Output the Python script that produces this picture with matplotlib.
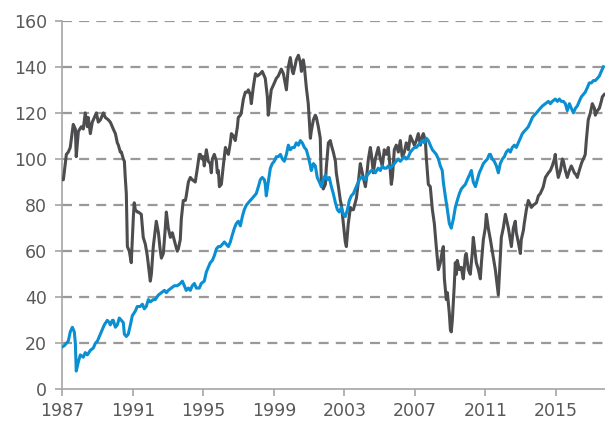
import matplotlib
matplotlib.use("Agg")
import matplotlib.pyplot as plt

# Dark grey series (decimal year, value)
grey_years = [1987.00,1987.06,1987.23,1987.34,1987.45,1987.62,1987.74,1987.79,1987.91,1988.08,1988.19,1988.30,1988.42,1988.47,1988.59,1988.70,1988.76,1988.93,1989.04,1989.16,1989.33,1989.44,1989.61,1989.72,1989.78,1989.89,1990.01,1990.12,1990.18,1990.29,1990.35,1990.46,1990.52,1990.57,1990.63,1990.69,1990.80,1990.91,1991.03,1991.08,1991.14,1991.25,1991.31,1991.48,1991.59,1991.71,1991.82,1991.88,1991.99,1992.05,1992.16,1992.22,1992.33,1992.45,1992.56,1992.62,1992.73,1992.84,1992.90,1993.01,1993.13,1993.24,1993.41,1993.52,1993.58,1993.69,1993.75,1993.86,1993.98,1994.03,1994.15,1994.26,1994.37,1994.54,1994.66,1994.77,1994.83,1994.94,1995.00,1995.05,1995.17,1995.28,1995.39,1995.45,1995.51,1995.62,1995.74,1995.79,1995.85,1995.91,1996.02,1996.13,1996.25,1996.30,1996.42,1996.53,1996.59,1996.70,1996.81,1996.93,1996.98,1997.10,1997.15,1997.27,1997.38,1997.49,1997.55,1997.66,1997.72,1997.83,1997.95,1998.06,1998.23,1998.34,1998.51,1998.63,1998.68,1998.80,1998.85,1998.97,1999.14,1999.25,1999.42,1999.54,1999.59,1999.71,1999.82,1999.93,2000.05,2000.10,2000.22,2000.27,2000.39,2000.50,2000.56,2000.67,2000.73,2000.84,2000.95,2001.07,2001.12,2001.24,2001.35,2001.41,2001.52,2001.63,2001.69,2001.80,2001.92,2001.97,2002.09,2002.20,2002.26,2002.37,2002.49,2002.54,2002.66,2002.77,2002.83,2002.94,2003.05,2003.11,2003.22,2003.34,2003.39,2003.51,2003.68,2003.79,2003.90,2003.96,2004.07,2004.19,2004.24,2004.36,2004.47,2004.53,2004.64,2004.75,2004.92,2005.04,2005.15,2005.26,2005.38,2005.49,2005.55,2005.66,2005.72,2005.83,2005.94,2006.06,2006.17,2006.28,2006.40,2006.51,2006.63,2006.74,2006.85,2006.97,2007.08,2007.19,2007.31,2007.42,2007.48,2007.59,2007.65,2007.76,2007.87,2007.99,2008.10,2008.21,2008.33,2008.44,2008.55,2008.61,2008.67,2008.78,2008.84,2008.95,2009.01,2009.06,2009.12,2009.23,2009.29,2009.35,2009.40,2009.52,2009.63,2009.74,2009.86,2009.91,2010.03,2010.14,2010.26,2010.31,2010.43,2010.48,2010.60,2010.71,2010.77,2010.88,2010.99,2011.05,2011.16,2011.28,2011.39,2011.50,2011.56,2011.67,2011.73,2011.79,2011.90,2012.01,2012.13,2012.24,2012.30,2012.41,2012.47,2012.58,2012.69,2012.75,2012.86,2012.98,2013.03,2013.15,2013.20,2013.32,2013.43,2013.55,2013.60,2013.72,2013.89,2014.00,2014.11,2014.23,2014.28,2014.40,2014.57,2014.68,2014.79,2014.91,2014.96,2015.02,2015.13,2015.25,2015.36,2015.42,2015.53,2015.64,2015.76,2015.87,2015.93,2016.04,2016.15,2016.21,2016.32,2016.44,2016.49,2016.61,2016.66,2016.72,2016.83,2016.95,2017.06,2017.18,2017.23,2017.35,2017.46,2017.57,2017.63,2017.74]
grey_values = [91,91,102,103,105,115,113,101,112,114,113,120,114,118,111,116,117,120,116,117,120,118,117,116,115,113,111,107,106,103,103,100,99,92,85,62,60,55,75,81,78,77,77,76,66,63,58,54,47,50,62,66,73,68,60,57,59,70,77,70,66,68,63,60,61,65,74,82,82,84,90,92,91,90,96,102,102,100,101,97,104,99,98,94,100,102,99,94,95,88,89,97,105,104,102,107,111,110,108,114,118,119,120,126,129,129,130,128,124,131,137,136,137,138,135,127,119,127,130,132,135,136,139,137,135,130,140,144,138,137,141,143,145,142,138,143,140,131,124,109,112,117,119,118,114,109,90,87,89,96,107,108,106,103,99,94,88,82,80,72,64,62,72,79,78,78,83,90,98,96,92,88,91,100,105,102,94,100,105,100,97,104,102,105,100,89,92,104,106,103,108,101,103,107,104,110,108,106,108,111,106,110,111,108,100,89,88,78,72,62,52,55,60,62,48,39,42,33,26,25,30,45,55,50,56,52,53,48,58,59,52,50,60,66,58,55,52,48,55,65,70,76,70,65,60,55,52,45,41,50,66,70,76,72,70,65,62,70,73,68,64,59,65,69,72,78,82,80,79,80,81,84,85,87,88,92,94,95,97,100,102,97,92,95,100,99,95,92,95,97,96,94,93,92,95,98,99,101,102,108,117,120,124,122,119,121,122,125,127,128]

# Blue series (decimal year, value)
blue_years = [1987.00,1987.11,1987.34,1987.45,1987.57,1987.68,1987.74,1987.79,1987.91,1988.02,1988.19,1988.30,1988.42,1988.59,1988.76,1988.87,1988.99,1989.16,1989.27,1989.38,1989.55,1989.67,1989.72,1989.84,1989.89,1990.01,1990.12,1990.23,1990.35,1990.46,1990.52,1990.63,1990.74,1990.86,1990.97,1991.14,1991.25,1991.42,1991.54,1991.65,1991.76,1991.88,1991.99,1992.16,1992.27,1992.45,1992.62,1992.79,1992.90,1993.01,1993.18,1993.35,1993.52,1993.69,1993.81,1993.92,1994.03,1994.15,1994.26,1994.37,1994.49,1994.60,1994.77,1994.88,1995.05,1995.17,1995.28,1995.39,1995.51,1995.62,1995.74,1995.85,1995.96,1996.08,1996.19,1996.30,1996.42,1996.53,1996.64,1996.76,1996.87,1996.98,1997.10,1997.21,1997.32,1997.44,1997.55,1997.66,1997.78,1997.89,1998.00,1998.12,1998.23,1998.34,1998.46,1998.51,1998.57,1998.68,1998.80,1998.91,1999.02,1999.14,1999.25,1999.37,1999.48,1999.59,1999.71,1999.82,1999.93,2000.05,2000.16,2000.27,2000.39,2000.50,2000.61,2000.73,2000.84,2000.95,2001.07,2001.12,2001.24,2001.35,2001.46,2001.58,2001.69,2001.80,2001.92,2002.03,2002.14,2002.26,2002.37,2002.49,2002.60,2002.71,2002.83,2002.94,2003.05,2003.17,2003.28,2003.39,2003.51,2003.62,2003.73,2003.85,2003.96,2004.07,2004.19,2004.30,2004.41,2004.53,2004.64,2004.75,2004.92,2005.04,2005.15,2005.26,2005.38,2005.49,2005.60,2005.72,2005.83,2005.94,2006.06,2006.17,2006.28,2006.40,2006.51,2006.63,2006.74,2006.85,2006.97,2007.08,2007.19,2007.31,2007.42,2007.53,2007.65,2007.76,2007.87,2007.99,2008.10,2008.21,2008.33,2008.44,2008.55,2008.61,2008.72,2008.84,2008.95,2009.06,2009.18,2009.29,2009.40,2009.52,2009.63,2009.74,2009.86,2009.97,2010.09,2010.20,2010.31,2010.43,2010.54,2010.65,2010.77,2010.88,2010.99,2011.11,2011.22,2011.28,2011.39,2011.50,2011.62,2011.73,2011.84,2011.96,2012.07,2012.18,2012.30,2012.41,2012.52,2012.64,2012.75,2012.86,2012.98,2013.09,2013.20,2013.32,2013.43,2013.55,2013.66,2013.77,2013.89,2014.00,2014.11,2014.23,2014.40,2014.57,2014.68,2014.79,2014.96,2015.08,2015.19,2015.30,2015.42,2015.53,2015.64,2015.76,2015.87,2015.99,2016.10,2016.21,2016.32,2016.44,2016.55,2016.66,2016.78,2016.89,2017.01,2017.12,2017.23,2017.35,2017.46,2017.57,2017.69]
blue_values = [18.5,19,21,25,27,25,20,8,12,15,14,16,15,17,18,20,21,24,26,28,30,29,28,30,30,27,28,31,30,29,24,23,24,28,32,34,36,36,37,35,36,39,38,39,39,41,42,43,42,43,44,45,45,46,47,45,43,44,43,45,46,44,44,46,47,51,53,55,56,58,61,62,62,63,64,63,62,64,67,70,72,73,71,75,78,80,81,82,83,84,85,88,91,92,91,89,84,90,96,98,99,101,101,102,100,99,102,106,104,105,105,107,106,108,107,105,104,101,97,95,98,97,92,90,88,91,93,91,92,88,85,81,78,77,79,76,75,78,82,84,85,87,89,91,92,92,91,93,94,95,95,94,96,95,97,96,96,97,96,97,98,99,100,99,100,101,100,101,103,104,105,105,106,107,108,107,109,108,106,104,103,102,100,97,95,90,84,78,72,70,74,79,82,85,87,88,89,91,93,95,90,88,91,94,96,98,99,100,102,102,100,99,97,94,98,100,101,103,104,103,105,106,105,107,109,111,112,113,114,116,118,119,120,121,122,123,124,125,124,125,126,125,126,125,125,124,121,124,122,120,122,123,125,127,128,129,131,133,133,134,134,135,136,138,140]

x_ticks = [1987, 1991, 1995, 1999, 2003, 2007, 2011, 2015]
y_ticks = [0, 20, 40, 60, 80, 100, 120, 140, 160]

GREY = "#4d4d4f"
BLUE = "#0a8fd2"
GRID = "#999999"
TEXT = "#595959"
SPINE = "#a6a6a6"

fig = plt.figure(figsize=(6.05, 4.24), dpi=100)
ax = fig.add_axes([0.103, 0.0814, 0.897, 0.8698])

for v in y_ticks[1:]:
    ax.axhline(v, color=GRID, lw=1.6, ls=(0, (4.5, 3.2)), zorder=1)

ax.plot(grey_years, grey_values, color=GREY, lw=2.2, zorder=3, solid_joinstyle="round")
ax.plot(blue_years, blue_values, color=BLUE, lw=2.2, zorder=4, solid_joinstyle="round")

ax.set_xlim(1987, 2017.78)
ax.set_ylim(0, 160)
ax.set_xticks(x_ticks)
ax.set_yticks(y_ticks)
ax.set_xticklabels([str(t) for t in x_ticks])
ax.set_yticklabels([str(t) for t in y_ticks])

for s in ["top", "right"]:
    ax.spines[s].set_visible(False)
for s in ["left", "bottom"]:
    ax.spines[s].set_color(SPINE)
    ax.spines[s].set_linewidth(1.2)

ax.tick_params(axis="both", direction="out", length=5, width=1.2, color=SPINE,
               labelcolor=TEXT, labelsize=12.5)
ax.tick_params(axis="y", pad=6)
ax.tick_params(axis="x", pad=4)
ax.patch.set_alpha(0)

fig.savefig("out.png", dpi=100)
